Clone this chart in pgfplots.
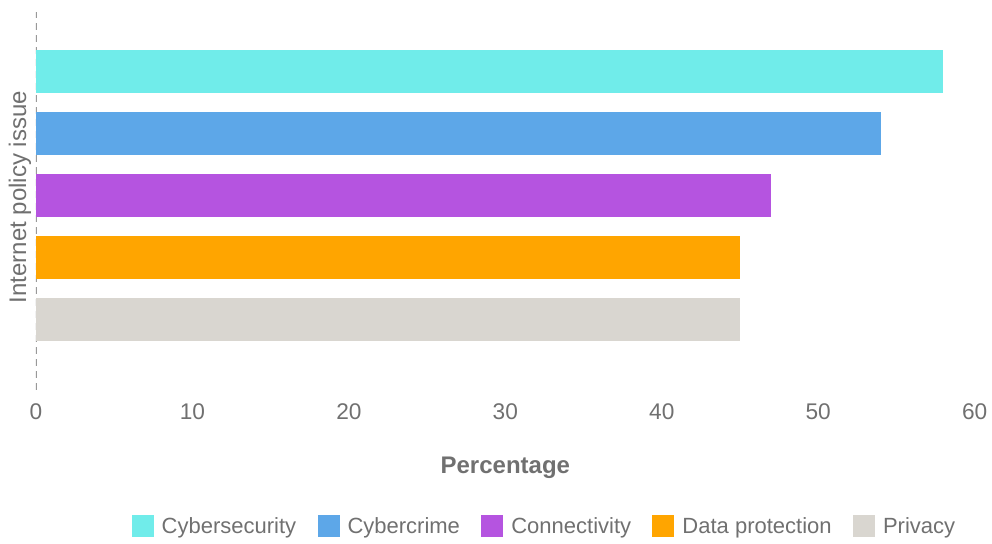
\documentclass[border=0pt]{standalone}
\usepackage{fontspec}
\setmainfont{Liberation Sans}
\usepackage{pgfplots}
\pgfplotsset{compat=1.18}
\definecolor{txt}{HTML}{707070}
\definecolor{cA}{HTML}{70ECEA}
\definecolor{cB}{HTML}{5DA7E8}
\definecolor{cC}{HTML}{B554E0}
\definecolor{cD}{HTML}{FFA500}
\definecolor{cE}{HTML}{D9D6D0}
\begin{document}
\begin{tikzpicture}
\begin{axis}[
  at={(0,0)}, anchor=south west, scale only axis,
  width=704pt, height=283.5pt,
  xmin=0, xmax=60, ymin=-0.14, ymax=5.96,
  xtick={0,10,20,30,40,50,60}, ytick=\empty,
  axis line style={draw=none}, tick style={draw=none},
  xbar, bar width=0.69, bar shift=0pt,
  /pgf/number format/assume math mode=true,
  xticklabel style={font=\fontsize{17}{17}\selectfont, text=txt, anchor=center, yshift=-16.5pt},
  xlabel={Percentage},
  xlabel style={at={(axis description cs:0.5,0)}, anchor=center, yshift=-58.5pt, font=\bfseries\fontsize{18}{18}\selectfont, text=txt},
  ylabel={Internet policy issue},
  ylabel style={at={(axis description cs:-0.017,0.51)}, anchor=center, rotate=0, font=\fontsize{18}{18}\selectfont, text=txt},
  legend columns=5,
  legend style={at={(axis description cs:0.542,-0.36)}, anchor=center, draw=none, fill=none,
    font=\fontsize{16.5}{16.5}\selectfont, text=txt,
    /tikz/every even column/.append style={column sep=14pt},
    /tikz/every odd column/.append style={column sep=4pt},
    inner sep=0pt},
  legend image code/.code={\fill[#1,draw=none] (0pt,-8.25pt) rectangle (16.5pt,8.25pt);},
  legend cell align=left,
]
\draw[dash pattern=on 5pt off 4pt, color=black!40, line width=0.9pt] (axis cs:0,-0.14) -- (axis cs:0,5.96);
\addplot[fill=cA, draw=none] coordinates {(58,5)};
\addplot[fill=cB, draw=none] coordinates {(54,4)};
\addplot[fill=cC, draw=none] coordinates {(47,3)};
\addplot[fill=cD, draw=none] coordinates {(45,2)};
\addplot[fill=cE, draw=none] coordinates {(45,1)};
\legend{Cybersecurity, Cybercrime, Connectivity, Data protection, Privacy}
\end{axis}
\path[use as bounding box] (-27pt,-114.75pt) rectangle (717pt,292.5pt);
\end{tikzpicture}
\end{document}
